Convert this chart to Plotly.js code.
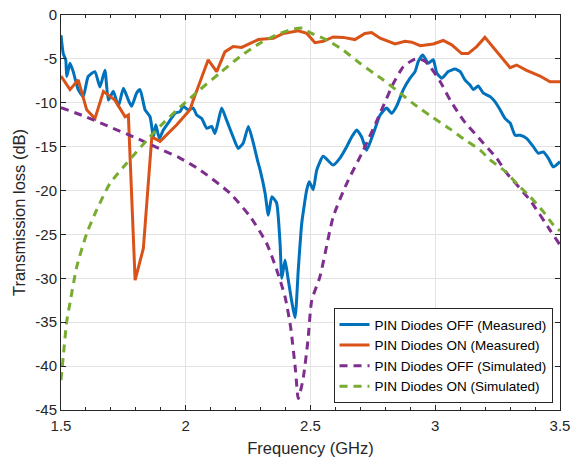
<!DOCTYPE html>
<html>
<head>
<meta charset="utf-8">
<script src="https://cdn.plot.ly/plotly-3.0.1.min.js"></script>
<style>html,body{margin:0;padding:0;background:#fff;}#chart{width:571px;height:460px;}</style>
</head>
<body>
<div id="chart"></div>
<script>
// PIN Diodes OFF (Measured)
var offMeasFreq = [1.5,1.509,1.519,1.523,1.536,1.549,1.569,1.589,1.609,1.636,1.656,1.676,1.69,1.71,1.73,1.75,1.77,1.783,1.803,1.817,1.837,1.857,1.87,1.88,1.894,1.91,1.937,1.957,1.977,1.99,2.01,2.03,2.044,2.064,2.084,2.104,2.117,2.13,2.144,2.164,2.19,2.21,2.23,2.251,2.271,2.287,2.298,2.318,2.331,2.345,2.364,2.378,2.385,2.398,2.411,2.438,2.451,2.465,2.485,2.495,2.511,2.525,2.551,2.591,2.618,2.645,2.665,2.685,2.705,2.725,2.752,2.779,2.805,2.825,2.845,2.872,2.899,2.919,2.932,2.95,2.972,2.992,3.006,3.026,3.052,3.079,3.1,3.119,3.139,3.153,3.172,3.193,3.22,3.24,3.26,3.28,3.3,3.32,3.34,3.366,3.393,3.413,3.433,3.453,3.473,3.5];
var offMeasDb = [-2.3,-4.4,-5.1,-7.0,-5.5,-6.45,-8.5,-9.3,-7.0,-6.45,-8.2,-6.3,-9.7,-8.7,-10.4,-8.35,-9.7,-10.4,-8.9,-8.5,-10.8,-11.6,-13.9,-12.5,-14.05,-13.1,-12.0,-11.2,-11.0,-10.4,-10.8,-10.6,-11.4,-11.8,-12.9,-12.7,-13.5,-12.15,-10.6,-12.0,-13.9,-15.2,-14.6,-12.7,-14.6,-16.5,-17.65,-20.3,-22.8,-20.7,-21.4,-26.0,-30.0,-27.9,-30.2,-34.5,-29.0,-23.7,-19.9,-19.0,-19.9,-17.65,-16.1,-17.1,-16.3,-15.0,-13.9,-13.1,-13.9,-15.4,-13.5,-11.4,-10.6,-11.2,-10.4,-8.5,-7.2,-6.45,-5.3,-4.55,-5.5,-5.1,-6.6,-7.2,-6.45,-6.15,-6.45,-7.4,-7.97,-8.5,-8.1,-8.9,-9.3,-9.9,-10.8,-11.8,-12.3,-13.7,-13.7,-14.05,-15.0,-15.75,-15.6,-16.3,-17.3,-16.7];

// PIN Diodes ON (Measured)
var onMeasFreq = [1.5,1.536,1.569,1.603,1.636,1.67,1.716,1.757,1.77,1.797,1.83,1.864,1.897,1.964,2.017,2.03,2.09,2.124,2.157,2.19,2.224,2.291,2.351,2.391,2.451,2.485,2.518,2.551,2.591,2.631,2.678,2.718,2.745,2.779,2.839,2.879,2.906,2.94,2.992,3.032,3.066,3.106,3.132,3.166,3.199,3.246,3.3,3.326,3.366,3.42,3.46,3.5];
var onMeasDb = [-6.95,-8.5,-7.4,-10.8,-11.8,-8.7,-9.7,-11.6,-11.4,-30.2,-26.6,-13.9,-14.4,-12.5,-10.8,-9.7,-5.1,-6.45,-4.2,-3.6,-3.7,-2.8,-2.65,-2.1,-1.8,-2.1,-3.15,-3.0,-2.5,-2.55,-2.8,-2.1,-2.0,-2.65,-3.3,-3.0,-3.1,-3.5,-3.3,-2.9,-3.4,-4.4,-4.4,-3.6,-2.55,-4.2,-6.0,-5.7,-6.3,-6.95,-7.6,-7.6];

// PIN Diodes OFF (Simulated)
var offSimFreq = [1.5,1.6,1.7,1.8,1.9,1.977,2.057,2.177,2.258,2.324,2.364,2.398,2.42,2.44,2.451,2.47,2.49,2.505,2.538,2.591,2.645,2.712,2.779,2.832,2.872,2.912,2.935,2.96,2.98,3.02,3.06,3.113,3.193,3.246,3.286,3.38,3.46,3.5];
var offSimDb = [-10.56,-11.6,-12.8,-14.0,-15.3,-16.3,-17.65,-20.3,-22.97,-26.0,-29.0,-32.1,-35.5,-40.5,-43.7,-41.5,-37.0,-32.5,-29.8,-23.0,-19.2,-15.4,-11.2,-7.8,-5.9,-5.1,-5.0,-5.3,-5.9,-7.6,-9.7,-12.0,-14.6,-16.3,-18.0,-21.1,-24.5,-26.2];

// PIN Diodes ON (Simulated)
var onSimFreq = [1.5,1.509,1.523,1.536,1.563,1.603,1.643,1.696,1.763,1.843,1.9,1.977,2.057,2.137,2.217,2.298,2.378,2.431,2.47,2.498,2.565,2.631,2.698,2.752,2.792,2.859,2.926,2.992,3.06,3.113,3.18,3.22,3.28,3.333,3.38,3.433,3.473,3.5];
var onSimDb = [-41.6,-38.9,-34.9,-32.8,-28.7,-24.9,-22.2,-19.2,-16.9,-14.3,-12.6,-10.5,-8.5,-6.6,-4.75,-3.2,-2.1,-1.6,-1.5,-2.0,-2.85,-4.0,-5.5,-6.6,-7.4,-8.9,-10.4,-11.7,-13.0,-14.1,-15.4,-16.5,-17.8,-19.4,-20.7,-22.4,-23.9,-24.6];

var seriesNames = ['PIN Diodes OFF (Measured)','PIN Diodes ON (Measured)','PIN Diodes OFF (Simulated)','PIN Diodes ON (Simulated)'];
var xTickVals = [1.5,2,2.5,3,3.5];
var xTickText = ['1.5','2','2.5','3','3.5'];
var yTickVals = [-45,-40,-35,-30,-25,-20,-15,-10,-5,0];
var yTickText = ['-45','-40','-35','-30','-25','-20','-15','-10','-5','0'];

var FONT = '"Liberation Sans", Arial, Helvetica, sans-serif';
var traces = [
  {x: offMeasFreq, y: offMeasDb, name: seriesNames[0], mode: 'lines',
   line: {color: '#0072BD', width: 3, shape: 'spline', smoothing: 0.5}},
  {x: onMeasFreq, y: onMeasDb, name: seriesNames[1], mode: 'lines',
   line: {color: '#D95319', width: 3}},
  {x: offSimFreq, y: offSimDb, name: seriesNames[2], mode: 'lines',
   line: {color: '#7E2F8E', width: 3, dash: '8px,6px', shape: 'spline', smoothing: 0.6}},
  {x: onSimFreq, y: onSimDb, name: seriesNames[3], mode: 'lines',
   line: {color: '#77AC30', width: 3, dash: '8px,6px', shape: 'spline', smoothing: 0.6}}
];

var axisCommon = {
  showline: true, linecolor: '#262626', linewidth: 1, mirror: 'ticks',
  ticks: 'inside', ticklen: 5, tickcolor: '#262626', tickwidth: 1,
  showgrid: true, gridcolor: '#e3e3e3', gridwidth: 1, zeroline: false,
  tickfont: {family: FONT, size: 15, color: '#262626'}
};

var layout = {
  width: 571, height: 460,
  margin: {l: 61, r: 11, t: 15, b: 50},
  paper_bgcolor: '#ffffff', plot_bgcolor: '#ffffff',
  font: {family: FONT, color: '#262626'},
  showlegend: true,
  xaxis: Object.assign({}, axisCommon, {
    range: [1.5, 3.5], tickmode: 'array', tickvals: xTickVals, ticktext: xTickText,
    ticklabelstandoff: 2,
    minor: {tickmode: 'linear', tick0: 1.5, dtick: 0.1, ticks: 'inside', ticklen: 3, tickcolor: '#262626', showgrid: false},
    title: {text: 'Frequency (GHz)', font: {family: FONT, size: 16.5, color: '#262626'}, standoff: 9}
  }),
  yaxis: Object.assign({}, axisCommon, {
    range: [-45, 0], tickmode: 'array', tickvals: yTickVals, ticktext: yTickText,
    title: {text: 'Transmission loss (dB)', font: {family: FONT, size: 16.5, color: '#262626'}, standoff: 5}
  }),
  legend: {
    x: 0.985, y: 0.017, xanchor: 'right', yanchor: 'bottom',
    bgcolor: '#ffffff', bordercolor: '#262626', borderwidth: 1,
    font: {family: FONT, size: 13.5, color: '#000000'},
    tracegroupgap: 0
  }
};

Plotly.newPlot('chart', traces, layout, {displayModeBar: false, staticPlot: true});
</script>
</body>
</html>
